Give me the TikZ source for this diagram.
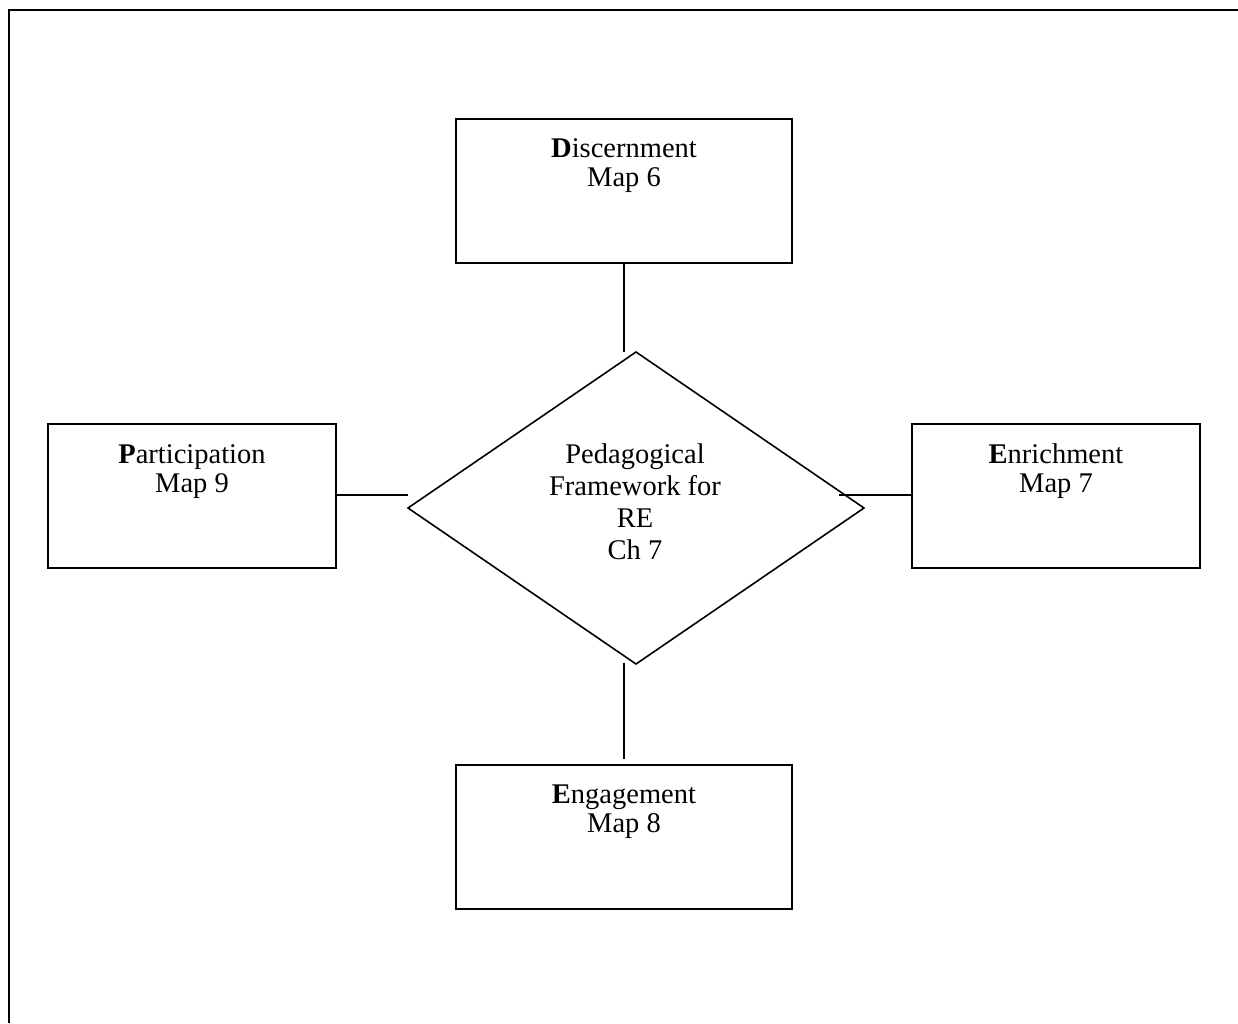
\documentclass[tikz,border=0pt]{standalone}
\usepackage{fontspec}
\setmainfont{Liberation Serif}
\begin{document}
\begin{tikzpicture}[x=1pt,y=-1pt,
  box/.style={draw, line width=1.7pt, fill=white, inner sep=0pt, outer sep=0pt,
              minimum height=144pt},
  wide/.style={box, minimum width=336pt},
  narrow/.style={box, minimum width=288pt},
  lbl/.style={align=center, inner sep=0pt, anchor=base,
              font=\fontsize{28.5}{28.5}\selectfont},
  ctrlbl/.style={lbl, font=\fontsize{28.5}{32}\selectfont},
  link/.style={line width=1.4pt},
  frame/.style={line width=2.4pt}]
\useasboundingbox (0,0) rectangle (1238,1023);

% page frame (open to the right and bottom)
\coordinate (fBL) at (9,1023);
\coordinate (fTL) at (9,10);
\coordinate (fTR) at (1238,10);
\draw[frame] (fBL) -- (fTL) -- (fTR);

% outer boxes
\node[wide]   (disc) at (624,191) {};
\node[narrow] (part) at (192,496) {};
\node[narrow] (enr)  at (1056,496) {};
\node[wide]   (eng)  at (624,837) {};

% central diamond
\coordinate (dT) at (636,352);
\coordinate (dR) at (864,508);
\coordinate (dB) at (636,664);
\coordinate (dL) at (408,508);
\draw[line width=1.6pt, line join=miter] (dT) -- (dR) -- (dB) -- (dL) -- cycle;

% connector ends near the diamond
\coordinate (cT) at (624,352);
\coordinate (cB) at (624,663);
\coordinate (cL) at (408,495);
\coordinate (cR) at (839,495);

\draw[link] (disc.south) -- (cT);
\draw[link] (cB) -- (624,759) coordinate (cE);
\draw[link] (part.east |- cL) -- (cL);
\draw[link] (cR) -- (enr.west |- cR);

% labels (anchored on the baseline of their last line)
\node[lbl] (discL) at (624,186) {\textbf{D}iscernment\\Map 6};
\node[lbl] (partL) at (192,492) {\textbf{P}articipation\\Map 9};
\node[lbl] (enrL)  at (1056,492) {\textbf{E}nrichment\\Map 7};
\node[lbl] (engL)  at (624,832) {\textbf{E}ngagement\\Map 8};
\node[ctrlbl] (ctrL) at (635,559) {Pedagogical\\Framework for\\RE\\Ch 7};
\end{tikzpicture}
\end{document}
